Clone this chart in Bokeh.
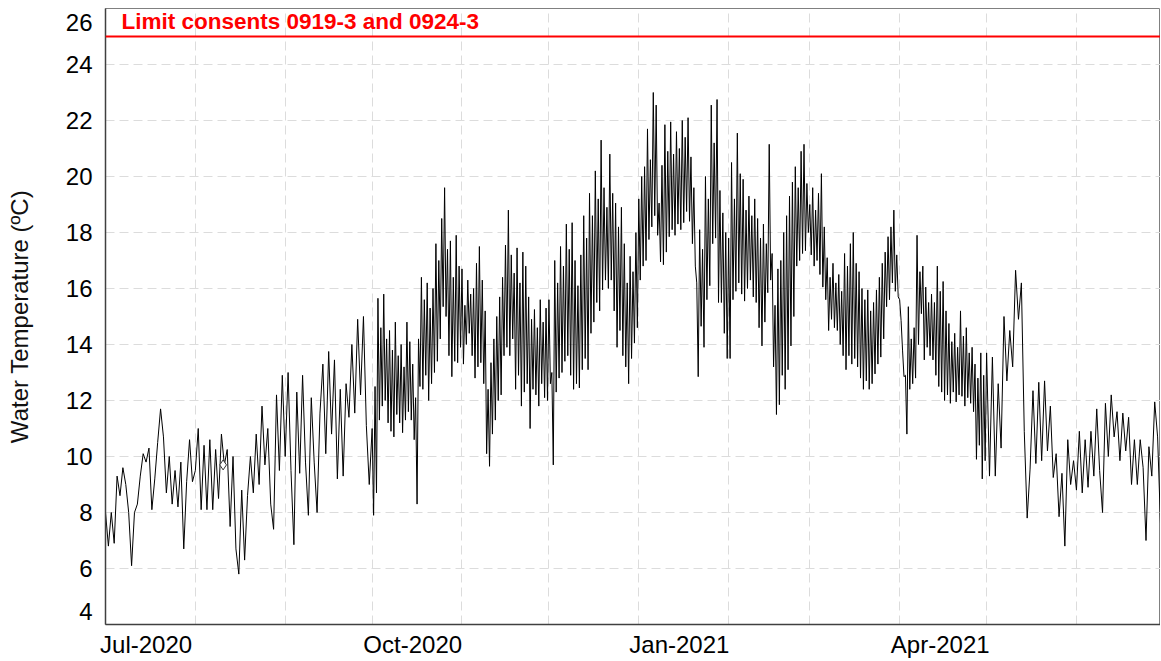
import pandas as pd
from bokeh.plotting import figure
from bokeh.models import (Range1d, FixedTicker, DatetimeTickFormatter, Span, Label,
                          CustomJSTickFormatter)
from bokeh.embed import file_html
from bokeh.resources import INLINE

# ---- water temperature readings (ºC) ----
# Jul-Sep 2020 and May-Jun 2021: one reading per day
jul_2020 = [8.0, 6.8, 8.0, 6.9, 9.3, 8.6, 9.6, 9.0, 8.0, 6.1,
            8.0, 8.3, 9.3, 10.1, 9.8, 10.3, 8.1, 9.2, 10.5, 11.7,
            10.7, 8.7, 10.0, 8.3, 9.5, 8.2, 9.8, 6.7, 9.1, 10.6,
            9.1]
aug_2020 = [9.5, 11.0, 8.1, 10.4, 8.1, 10.6, 8.1, 10.25, 8.5, 10.8,
            9.7, 10.25, 7.5, 10.0, 6.7, 5.8, 8.8, 6.3, 8.6, 10.0,
            8.7, 10.8, 9.0, 11.8, 9.7, 11.0, 8.3, 7.4, 12.2, 9.5,
            12.9]
sep_2020 = [10.0, 13.0, 9.5, 6.85, 12.3, 9.4, 12.9, 9.8, 7.9, 12.1,
            9.8, 8.0, 11.55, 13.3, 10.1, 13.75, 10.8, 13.45, 9.2, 12.4,
            9.3, 12.6, 11.4, 14.0, 11.55, 14.9, 12.2, 15.0, 11.1, 9.0]

# Oct 2020 - Apr 2021: two readings per day (daily high, daily low)
oct_2020 = [11.0, 7.9, 12.5, 8.7, 15.65, 11.3, 14.6, 11.8, 15.8, 12.0,
            14.2, 11.2, 14.5, 10.9, 13.8, 10.7, 14.8, 11.5, 13.6, 11.2,
            14.0, 10.85, 13.2, 11.3, 14.8, 11.6, 14.1, 11.3, 13.3, 10.6,
            12.1, 8.3, 14.2, 12.5, 16.4, 12.4, 15.6, 12.9, 16.2, 12.0,
            15.3, 12.6, 16.0, 13.0, 17.6, 13.4, 17.0, 14.2, 18.5, 15.35,
            19.6, 15.0, 17.4, 13.6, 17.7, 12.85, 16.4, 13.4, 17.9, 13.35,
            16.8, 13.9]
nov_2020 = [16.7, 13.3, 15.4, 14.0, 16.3, 14.4, 15.8, 13.6, 16.0, 12.8,
            16.9, 13.2, 17.5, 13.35, 16.3, 12.6, 15.2, 10.1, 12.4, 9.65,
            13.35, 10.8, 14.2, 11.3, 15.0, 12.0, 15.7, 12.2, 16.4, 13.6,
            17.55, 13.9, 18.8, 13.6, 17.2, 14.2, 16.55, 12.4, 17.45, 12.9,
            16.2, 11.8, 17.3, 12.3, 16.8, 12.6, 15.7, 11.0, 14.9, 12.4,
            15.25, 12.2, 14.6, 11.8, 15.6, 12.6, 14.8, 12.1, 15.3, 12.0]
dec_2020 = [15.6, 12.6, 13.0, 9.7, 17.0, 12.3, 16.2, 12.8, 17.5, 13.0,
            16.8, 13.4, 18.3, 13.6, 17.4, 12.9, 18.35, 12.4, 17.0, 12.6,
            16.1, 12.45, 17.2, 13.1, 18.6, 13.5, 17.8, 13.1, 19.4, 14.4,
            18.6, 14.8, 20.2, 15.5, 19.2, 15.2, 21.3, 15.95, 19.6, 16.3,
            18.9, 16.0, 20.8, 16.3, 19.4, 15.2, 19.05, 13.9, 18.2, 14.5,
            18.9, 13.6, 17.6, 13.2, 16.2, 12.6, 17.15, 13.5, 16.6, 14.05,
            18.0, 14.6]
jan_2021 = [19.2, 16.3, 20.0, 16.8, 20.35, 17.0, 21.7, 17.75, 20.6, 18.2,
            23.0, 18.6, 22.55, 17.9, 19.05, 16.95, 20.4, 16.85, 21.85, 17.3,
            20.9, 17.85, 21.95, 18.1, 20.8, 17.9, 21.6, 18.3, 21.0, 18.1,
            22.0, 18.35, 21.4, 18.75, 22.1, 18.4, 20.7, 17.6, 19.6, 16.8,
            16.2, 12.85, 18.1, 14.65, 17.4, 13.9, 20.0, 15.6, 19.2, 16.1,
            22.55, 17.6, 21.2, 17.8, 22.75, 15.5, 19.5, 15.5, 18.7, 14.4,
            18.0, 13.5]
feb_2021 = [17.8, 13.5, 20.5, 15.6, 19.2, 15.9, 21.55, 16.2, 20.1, 15.8,
            19.9, 15.55, 18.8, 16.0, 19.3, 16.3, 18.6, 15.7, 19.2, 15.5,
            18.5, 14.6, 17.8, 13.95, 18.3, 14.8, 17.6, 15.85, 21.15, 16.3,
            17.25, 13.2, 15.4, 11.5, 16.7, 11.85, 17.0, 12.9, 18.0, 12.4,
            18.6, 13.1, 19.3, 13.95, 19.8, 15.0, 20.35, 16.8, 19.6, 17.0,
            20.9, 17.25, 21.15, 17.35, 19.75, 18.0]
mar_2021 = [19.0, 17.2, 19.6, 16.8, 18.8, 17.0, 19.4, 16.5, 20.1, 16.05,
            18.2, 15.6, 17.1, 14.5, 16.4, 14.9, 16.9, 14.6, 16.2, 14.5,
            16.5, 14.0, 15.9, 13.6, 17.25, 13.1, 16.8, 13.6, 17.6, 13.3,
            18.0, 13.5, 16.9, 13.2, 16.6, 12.8, 16.0, 12.4, 15.6, 12.7,
            15.95, 12.4, 15.2, 12.6, 15.5, 12.95, 15.95, 13.3, 16.4, 13.55,
            16.9, 14.2, 17.3, 15.35, 17.85, 15.6, 18.2, 16.2, 18.8, 15.9,
            17.2, 15.7]
apr_2021 = [15.6, 14.85, 13.8, 12.85, 12.9, 10.8, 15.35, 12.4, 14.2, 12.6,
            14.6, 12.8, 17.9, 14.0, 16.6, 15.1, 16.8, 13.45, 16.05, 13.9,
            15.5, 13.6, 15.8, 13.45, 15.5, 12.9, 16.8, 12.5, 15.9, 12.3,
            16.25, 12.0, 15.2, 12.2, 14.75, 11.9, 14.1, 12.3, 14.4, 11.95,
            13.9, 12.2, 15.2, 12.15, 14.3, 11.8, 14.6, 12.1, 13.7, 11.9,
            13.9, 11.6, 13.3, 9.9, 12.8, 10.4, 13.7, 9.2, 12.9, 9.85]

may_2021 = [13.7, 9.3, 13.55, 9.3, 12.6, 10.3, 15.0, 12.7, 14.5, 13.2,
            16.65, 14.9, 16.2, 10.9, 7.8, 9.55, 12.35, 9.75, 12.65, 9.85,
            12.7, 10.2, 11.8, 9.25, 10.1, 7.85, 9.4, 6.8, 10.6, 9.0,
            9.85]
jun_2021 = [8.8, 10.9, 8.7, 10.6, 8.9, 10.9, 9.3, 11.7, 9.5, 8.0,
            11.9, 10.0, 12.2, 10.7, 11.6, 9.85, 11.55, 10.2, 11.4, 9.0,
            10.6, 9.0, 10.6, 9.6, 7.0, 10.35, 9.3, 11.95, 10.7, 7.6]

x_start = "2020-07-01"
x_end = "2021-06-30"
y_min, y_max = 4, 26
y_ticks = [4, 6, 8, 10, 12, 14, 16, 18, 20, 22, 24, 26]
x_label_dates = ["2020-07-15", "2020-10-15", "2021-01-15", "2021-04-15"]
month_grid_dates = ["2020-08-01", "2020-09-01", "2020-10-01", "2020-11-01",
                    "2020-12-01", "2021-01-01", "2021-02-01", "2021-03-01",
                    "2021-04-01", "2021-05-01", "2021-06-01"]
limit_value = 25.0
limit_label = "Limit consents 0919-3 and 0924-3"
y_title = "Water Temperature (ºC)"
marker_dates = ["2020-08-10 14:00"]
marker_values = [9.7]

summer = jul_2020 + aug_2020 + sep_2020
winter = oct_2020 + nov_2020 + dec_2020 + jan_2021 + feb_2021 + mar_2021 + apr_2021
spring = may_2021 + jun_2021
dates = (list(pd.date_range("2020-07-01", periods=len(summer), freq="D")) +
         list(pd.date_range("2020-10-01", periods=len(winter), freq="12h")) +
         list(pd.date_range("2021-05-01", periods=len(spring), freq="D")))
temps = summer + winter + spring


def ms(s):
    return pd.Timestamp(s).value / 1e6


FONT = "Liberation Sans"
TICK_SIZE = "24px"

p = figure(width=1160, height=660, x_axis_type="datetime",
           x_range=Range1d(ms(x_start), ms(x_end)),
           y_range=Range1d(y_min, y_max),
           output_backend="svg", toolbar_location=None,
           min_border_left=105, min_border_right=0,
           min_border_top=8, min_border_bottom=35)
p.background_fill_color = "white"
p.border_fill_color = "white"
p.outline_line_color = "#808080"
p.outline_line_width = 1

# grids: month starts, every 2 ºC
p.xgrid.ticker = FixedTicker(ticks=[ms(d) for d in month_grid_dates])
p.ygrid.ticker = FixedTicker(ticks=y_ticks[1:-1])
p.grid.grid_line_color = "#dcdcdc"
p.grid.grid_line_dash = "9 5"
p.grid.grid_line_width = 1

# y labels: the two end labels are drawn nudged inside the frame, as in the original
label_pos = list(y_ticks)
label_pos[0] = y_min + 0.464
label_pos[-1] = y_max - 0.49
p.yaxis.ticker = FixedTicker(ticks=label_pos)
p.yaxis.formatter = CustomJSTickFormatter(code="return (Math.round(tick / 2) * 2).toString();")

p.xaxis.ticker = FixedTicker(ticks=[ms(d) for d in x_label_dates])
fmt = "%b-%Y"
p.xaxis.formatter = DatetimeTickFormatter(
    microseconds=fmt, milliseconds=fmt, seconds=fmt, minsec=fmt, minutes=fmt,
    hourmin=fmt, hours=fmt, days=fmt, months=fmt, years=fmt)

for ax in (p.xaxis, p.yaxis):
    ax.major_tick_line_color = None
    ax.minor_tick_line_color = None
    ax.major_tick_out = 0
    ax.major_tick_in = 0
    ax.minor_tick_out = 0
    ax.minor_tick_in = 0
    ax.major_label_text_font = FONT
    ax.major_label_text_font_size = TICK_SIZE
    ax.major_label_text_color = "black"
    ax.axis_line_color = "#404040"
    ax.axis_line_width = 1.5

p.xaxis.major_label_standoff = 6
p.yaxis.major_label_standoff = 13
p.yaxis.axis_label = y_title
p.yaxis.axis_label_text_font = FONT
p.yaxis.axis_label_text_font_size = "24px"
p.yaxis.axis_label_text_font_style = "normal"
p.yaxis.axis_label_text_color = "#111111"
p.yaxis.axis_label_standoff = 30

# consent limit
p.add_layout(Span(location=limit_value, dimension="width",
                  line_color="red", line_width=2))
p.add_layout(Label(x=ms("2020-07-06 12:00"), y=y_max,
                   text=limit_label, text_color="red", text_font=FONT,
                   text_font_style="bold", text_font_size="22.5px",
                   text_baseline="top"))

# series
p.line(x=dates, y=temps, line_color="black", line_width=1)
p.scatter(x=pd.to_datetime(marker_dates), y=marker_values, marker="diamond",
          size=10, fill_color="white", line_color="#333333", line_width=1)

open("out.html", "w").write(file_html(p, INLINE))
